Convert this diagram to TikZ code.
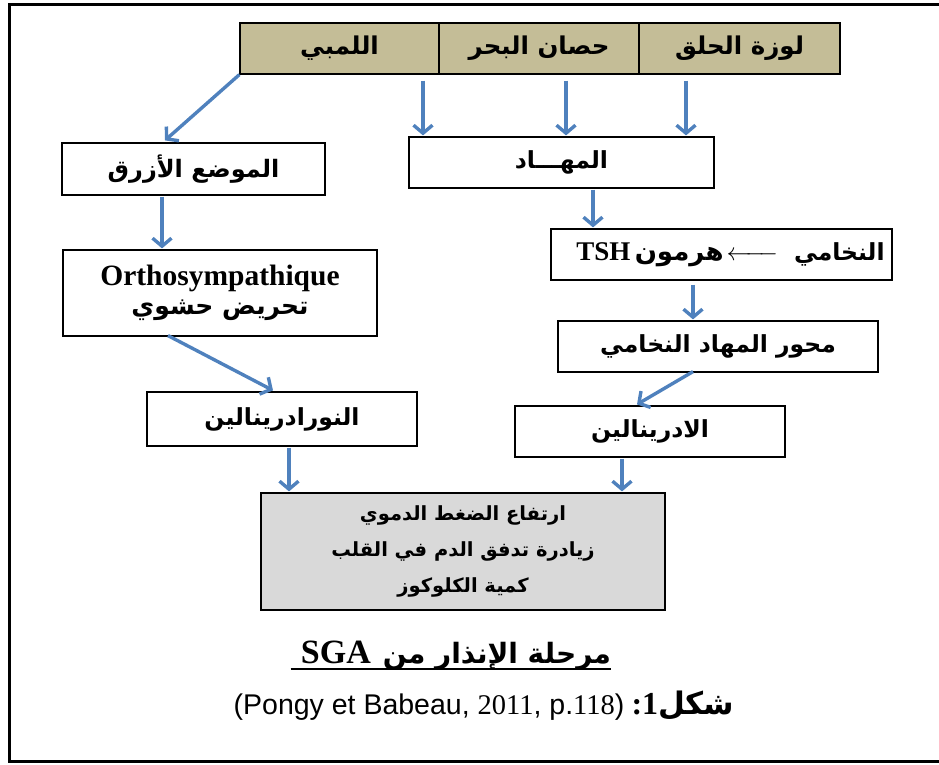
\documentclass[tikz,border=0pt]{standalone}
\usepackage{amsmath}
\usepackage{fontspec}
\setmainfont{Liberation Serif}
\newfontfamily\arial{Liberation Sans}
\newfontfamily\arabicfont[Script=Arabic]{DejaVu Sans}
\TeXXeTstate=1
\usetikzlibrary{arrows.meta}
\definecolor{tanfill}{HTML}{C4BD97}
\definecolor{flowblue}{HTML}{4F81BD}
\definecolor{resgray}{HTML}{D9D9D9}
% bold right-to-left Arabic run
\newcommand\arb[1]{{\arabicfont\bfseries\beginR #1\endR}}
\newcommand\fs[1]{\fontsize{#1}{#1}\selectfont}

\begin{document}
\begin{tikzpicture}[x=1pt,y=-1pt,
  box/.style={draw=black, line width=1.2pt, fill=white, inner sep=0pt,
    font=\fs{24.5}},
  topcell/.style={box, fill=tanfill, minimum height=51pt},
  flow/.style={draw=flowblue, line width=3.4pt,
    -{Straight Barb[length=8pt,width=19pt]}}]
\useasboundingbox (0,0) rectangle (939,764);

% outer frame
\draw[line width=3pt] (9.5,4.5) rectangle (955,761);

% source structures
\node[topcell, minimum width=201pt] (amyg) at (739.5,48.5) {\arb{لوزة الحلق}};
\node[topcell, minimum width=200pt] (hippo) at (539,48.5) {\arb{حصان البحر}};
\node[topcell, minimum width=199pt] (limbic) at (339.5,48.5) {\arb{اللمبي}};

% left branch
\node[box, minimum width=263pt, minimum height=52pt, font=\fs{24}] (locus) at (193.5,169) {\arb{الموضع الأزرق}};
\node[box, minimum width=314pt, minimum height=86pt, align=center, font=\fs{25}] (ortho) at (220,293)
  {{\bfseries\fs{29.5}Orthosympathique}\\[4pt]\arb{تحريض حشوي}};
\node[box, minimum width=270pt, minimum height=54pt, font=\fs{23.5}] (noradr) at (282,419) {\arb{النورادرينالين}};

% right branch
\node[box, minimum width=305pt, minimum height=51pt, font=\fs{23.5}] (hypoth) at (561.5,162.5) {\arb{المهـــاد}};
\node[box, minimum width=341pt, minimum height=51pt, font=\fs{26}] (pituit) at (721.5,254.5)
  {\hspace*{18pt}{\bfseries\fs{27}TSH}\,\arb{هرمون}\hspace{3pt}$\xleftarrow{\hspace{38pt}}$\hspace{16pt}{\fs{23.5}\arb{النخامي}}};
\node[box, minimum width=320pt, minimum height=51pt, font=\fs{23.5}] (axis) at (718,346.5) {\arb{محور المهاد النخامي}};
\node[box, minimum width=270pt, minimum height=51pt, font=\fs{23.5}] (adren) at (650,431.5) {\arb{الادرينالين}};

% effects
\node[box, fill=resgray, minimum width=404pt, minimum height=117pt, align=center,
  font=\fontsize{19.5}{36}\selectfont] (effect) at (463,551.5)
  {\arb{ارتفاع الضغط الدموي}\\\arb{زيادرة تدفق الدم في القلب}\\\arb{كمية الكلوكوز}};

% connectors
\draw[flow] (limbic.south west) -- ([xshift=-28.5pt,yshift=2pt]locus.north);
\draw[flow] ([xshift=83.5pt,yshift=-6pt]limbic.south) -- ([xshift=-138.5pt,yshift=1pt]hypoth.north);
\draw[flow] ([xshift=27pt,yshift=-6pt]hippo.south) -- ([xshift=4.5pt,yshift=1pt]hypoth.north);
\draw[flow] ([xshift=-53.5pt,yshift=-6pt]amyg.south) -- ([xshift=124.5pt,yshift=1pt]hypoth.north);
\draw[flow] ([xshift=31.5pt,yshift=-1pt]hypoth.south) -- ([xshift=-128.5pt,yshift=1pt]pituit.north);
\draw[flow] ([xshift=-31.5pt,yshift=-1pt]locus.south) -- ([xshift=-58pt,yshift=1pt]ortho.north);
\draw[flow] ([xshift=-52pt,yshift=1pt]ortho.south) -- ([xshift=-9pt,yshift=1pt]noradr.north);
\draw[flow] ([xshift=-28.5pt,yshift=-4pt]pituit.south) -- ([xshift=-25pt,yshift=1pt]axis.north);
\draw[flow] ([xshift=-25pt,yshift=1pt]axis.south) -- ([xshift=-13pt,yshift=1pt]adren.north);
\draw[flow] ([xshift=7pt,yshift=-1pt]noradr.south) -- ([xshift=-174pt,yshift=1pt]effect.north);
\draw[flow] ([xshift=-28pt,yshift=-1pt]adren.south) -- ([xshift=159pt,yshift=1pt]effect.north);

% caption
\node[inner sep=0pt, anchor=base, font=\fs{28}] (title) at (451,663)
  {\hspace*{10pt}{\bfseries\fs{34}SGA}\hspace{12pt}\arb{مرحلة الإنذار من}};
\draw[line width=2.2pt] ([yshift=-6pt]title.base west) -- ([yshift=-6pt]title.base east);

\node[inner sep=0pt, anchor=base, font=\fs{28.5}] (source) at (484,714)
  {{\arial(Pongy et Babeau, }2011{\arial, p.}118{\arial)}\ {\bfseries\fs{32}:1}{\fs{31}\arb{شكل}}};
\end{tikzpicture}
\end{document}
